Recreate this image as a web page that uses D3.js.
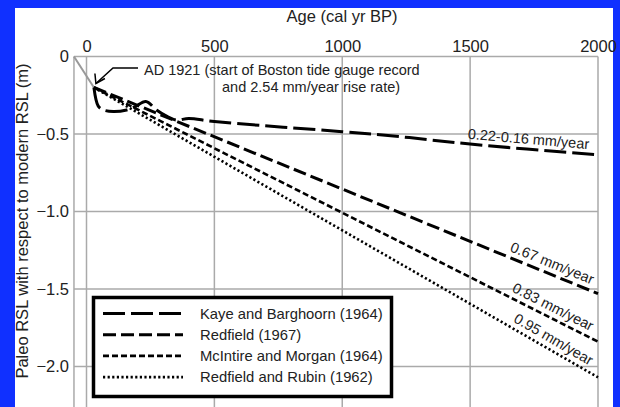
<!DOCTYPE html>
<html>
<head>
<meta charset="utf-8">
<script src="https://cdn.jsdelivr.net/npm/d3@7"></script>
<style>
  html, body { margin: 0; padding: 0; background: #1030ff; }
  svg { display: block; font-family: "Liberation Sans", Arial, sans-serif; }
</style>
</head>
<body>
<div id="chart"></div>
<script>
// age in cal yr BP, RSL in metres
var xTicks = [0, 500, 1000, 1500, 2000];
var yTicks = [0, -0.5, -1.0, -1.5, -2.0];

var tideGauge = [[-49, 0], [29, -0.2]];
var kaye = [[29, -0.2], [46, -0.32], [66, -0.345], [105, -0.355], [157, -0.345], [189, -0.325],
            [232, -0.29], [274, -0.345], [313, -0.385], [352, -0.41], [400, -0.40], [500, -0.42],
            [1000, -0.485], [1224, -0.517], [1500, -0.565], [2000, -0.635]];
var redfield = [[29, -0.2], [2000, -1.53]];
var mcintire = [[29, -0.2], [2000, -1.84]];
var rubin = [[29, -0.2], [2000, -2.07]];

var seriesNames = ['Kaye and Barghoorn (1964)', 'Redfield (1967)', 'McIntire and Morgan (1964)', 'Redfield and Rubin (1962)'];
var rateLabels = ['0.22-0.16 mm/year', '0.67 mm/year', '0.83 mm/year', '0.95 mm/year'];

var W = 620, H = 407;
var svg = d3.select('#chart').append('svg').attr('width', W).attr('height', H);

// white panel inside the blue frame
svg.append('rect').attr('x', 15).attr('y', 8).attr('width', 598).attr('height', H - 8).attr('fill', '#fff');

var x = d3.scaleLinear().domain([0, 2000]).range([86.5, 598]);
var y = d3.scaleLinear().domain([0, -2]).range([56.5, 366.5]);
var xMin = -49, yBottom = H + 5;

// grid
var grid = svg.append('g').attr('stroke', '#aaa').attr('stroke-width', 1.5);
grid.selectAll('.vg').data(xTicks).enter().append('line')
  .attr('x1', d => x(d)).attr('x2', d => x(d)).attr('y1', y(0)).attr('y2', yBottom);
grid.selectAll('.hg').data(yTicks).enter().append('line')
  .attr('x1', x(xMin)).attr('x2', x(2000)).attr('y1', d => y(d)).attr('y2', d => y(d));
grid.append('line').attr('x1', x(xMin)).attr('x2', x(xMin)).attr('y1', y(0)).attr('y2', yBottom);

// axes
var xAxis = svg.append('g').attr('transform', `translate(0,${y(0) - 5})`)
  .call(d3.axisTop(x).tickValues(xTicks).tickSize(0).tickPadding(0).tickFormat(d3.format('d')));
var yAxis = svg.append('g').attr('transform', `translate(${x(xMin) - 5},0)`)
  .call(d3.axisLeft(y).tickValues(yTicks).tickSize(0).tickPadding(0).tickFormat(d => d === 0 ? '0' : d3.format('.1f')(d)));
[xAxis, yAxis].forEach(a => {
  a.select('.domain').remove();
  a.selectAll('text').attr('font-size', 16.5).attr('fill', '#222').attr('font-family', '"Liberation Sans", Arial, sans-serif');
});

svg.append('text').attr('x', 342).attr('y', 22).attr('text-anchor', 'middle')
  .attr('font-size', 16.5).attr('fill', '#222').text('Age (cal yr BP)');
svg.append('text').attr('transform', 'translate(28,221) rotate(-90)').attr('text-anchor', 'middle')
  .attr('font-size', 16.5).attr('fill', '#222').text('Paleo RSL with respect to modern RSL (m)');

// lines
var line = d3.line().x(d => x(d[0])).y(d => y(d[1]));
svg.append('path').datum(tideGauge).attr('d', line).attr('fill', 'none')
  .attr('stroke', '#999').attr('stroke-width', 2);

var styles = [
  { dash: '22,6', w: 3 },
  { dash: '13,5', w: 3 },
  { dash: '6,3', w: 2.6 },
  { dash: '2.2,2.4', w: 2.6 }
];
var allSeries = [kaye, redfield, mcintire, rubin];
allSeries.forEach((s, i) => {
  svg.append('path').datum(s)
    .attr('d', i === 0 ? line.curve(d3.curveCatmullRom.alpha(0.5))(s) : d3.line().x(d => x(d[0])).y(d => y(d[1]))(s))
    .attr('fill', 'none').attr('stroke', '#000')
    .attr('stroke-width', styles[i].w).attr('stroke-dasharray', styles[i].dash);
});

// rate labels along the lines
allSeries.forEach((s, i) => {
  var a = s[s.length - 2], b = s[s.length - 1];
  var ax = i === 0 ? 1725 : 1805;
  var t = (ax - a[0]) / (b[0] - a[0]);
  var px = x(ax), py = y(a[1] + t * (b[1] - a[1]));
  var ang = Math.atan2(y(b[1]) - y(a[1]), x(b[0]) - x(a[0]));
  var off = i === 0 ? 5 : 6;
  svg.append('text')
    .attr('transform', `translate(${px + off * Math.sin(ang)},${py - off * Math.cos(ang)}) rotate(${ang * 180 / Math.PI})`)
    .attr('text-anchor', 'middle').attr('font-size', 14.5).attr('fill', '#222').text(rateLabels[i]);
});

// AD 1921 annotation
svg.append('text').attr('x', 144).attr('y', 75).attr('font-size', 14.5).attr('fill', '#222')
  .text('AD 1921 (start of Boston tide gauge record');
svg.append('text').attr('x', 222).attr('y', 92).attr('font-size', 14.5).attr('fill', '#222')
  .text('and 2.54 mm/year rise rate)');
var tip = [x(29) + 2, y(-0.2) - 4];
svg.append('path').attr('d', `M138,68 L113,68 L${tip[0]},${tip[1]}`)
  .attr('fill', 'none').attr('stroke', '#000').attr('stroke-width', 1.5);
svg.append('path').attr('d', `M${tip[0] - 1},${tip[1] - 10} L${tip[0]},${tip[1]} L${tip[0] + 9},${tip[1] - 5}`)
  .attr('fill', 'none').attr('stroke', '#000').attr('stroke-width', 1.5);

// legend
var lg = svg.append('g');
lg.append('rect').attr('x', 93.5).attr('y', 297.5).attr('width', 298).attr('height', 99)
  .attr('fill', '#fff').attr('stroke', '#000').attr('stroke-width', 3.5);
seriesNames.forEach((n, i) => {
  var ly = 313.5 + i * 21.2;
  lg.append('line').attr('x1', 103).attr('x2', 183).attr('y1', ly).attr('y2', ly)
    .attr('stroke', '#000').attr('stroke-width', styles[i].w).attr('stroke-dasharray', styles[i].dash);
  lg.append('text').attr('x', 200).attr('y', ly + 5).attr('font-size', 14.8).attr('fill', '#222').text(n);
});
</script>
</body>
</html>
